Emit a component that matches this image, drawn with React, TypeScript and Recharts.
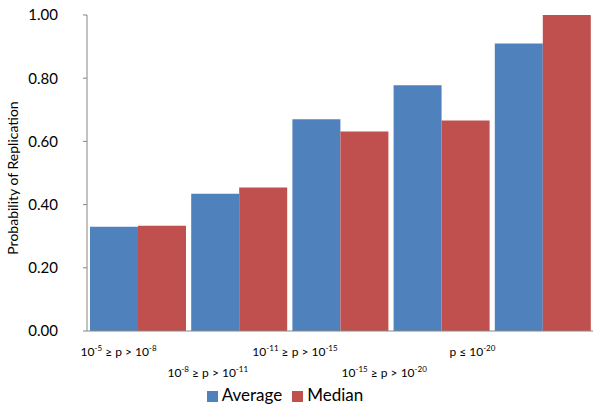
import React from 'react';
import { BarChart, Bar, XAxis, YAxis, Legend } from 'recharts';

// p-value bins, "^" marks an exponent
const categories = [
  '10^-5 ≥ p > 10^-8',
  '10^-8 ≥ p > 10^-11',
  '10^-11 ≥ p > 10^-15',
  '10^-15 ≥ p > 10^-20',
  'p ≤ 10^-20',
];
const averageValues = [0.33, 0.434, 0.67, 0.778, 0.91];
const medianValues = [0.333, 0.454, 0.631, 0.666, 1.0];
const yTicks = [0, 0.2, 0.4, 0.6, 0.8, 1.0];

const data = categories.map((c, i) => ({
  name: c,
  Average: averageValues[i],
  Median: medianValues[i],
}));

const FONT = 'Lato, "Open Sans", sans-serif';
const AXIS_COLOR = '#868686';
// excel drew the category labels a bit left of centre, staggered in two rows
const labelShift = [-19, -31, -45, -57, -70];

const splitLabel = (s: string) => {
  const parts: { text: string; sup: boolean }[] = [];
  s.split(/\^(-?\d+)/).forEach((p, i) => {
    if (p) parts.push({ text: p, sup: i % 2 === 1 });
  });
  return parts;
};

const CategoryTick = (props: any) => {
  const { x, y, payload } = props;
  const idx = payload.index;
  const parts = splitLabel(payload.value);
  const row = idx % 2 === 0 ? 17 : 38;
  return (
    <text x={x + labelShift[idx]} y={y + row} textAnchor="middle" fontSize={12} fontFamily={FONT} fill="#000">
      {parts.map((p, i) => {
        const prevSup = i > 0 && parts[i - 1].sup;
        const dy = p.sup ? -5 : prevSup ? 5 : 0;
        return (
          <tspan key={i} dy={dy} fontSize={p.sup ? 8 : 12}>
            {p.text}
          </tspan>
        );
      })}
    </text>
  );
};

const YLabel = (props: any) => {
  const { viewBox } = props;
  const cy = viewBox.y + viewBox.height / 2 + 5;
  return (
    <text
      x={18}
      y={cy}
      transform={`rotate(-90, 18, ${cy})`}
      textAnchor="middle"
      fontSize={14}
      fontFamily={FONT}
      fill="#000"
    >
      Probability of Replication
    </text>
  );
};

export default function App() {
  return (
    <div style={{ position: 'absolute', left: 0, top: 0, background: '#fff' }}>
      <BarChart
        width={601}
        height={406}
        data={data}
        margin={{ top: 15, right: 8, left: 0, bottom: 0 }}
        barCategoryGap={3}
        barGap={0}
      >
        <XAxis
          dataKey="name"
          height={50}
          interval={0}
          tickLine={false}
          stroke={AXIS_COLOR}
          tick={<CategoryTick />}
        />
        <YAxis
          width={87}
          domain={[0, 1]}
          ticks={yTicks}
          tickFormatter={(v: number) => v.toFixed(2)}
          tickSize={4}
          tickMargin={25}
          stroke={AXIS_COLOR}
          tick={{ fill: '#000', fontSize: 15, fontFamily: FONT }}
          label={<YLabel />}
        />
        <Legend
          verticalAlign="bottom"
          height={25}
          iconType="square"
          iconSize={11}
          wrapperStyle={{ left: 0, bottom: -3, width: 580, fontFamily: FONT, fontSize: 17 }}
          formatter={(value: string) => <span style={{ color: '#000' }}>{value}</span>}
        />
        <Bar dataKey="Average" fill="#4F81BD" isAnimationActive={false} />
        <Bar dataKey="Median" fill="#C0504D" isAnimationActive={false} />
      </BarChart>
    </div>
  );
}
